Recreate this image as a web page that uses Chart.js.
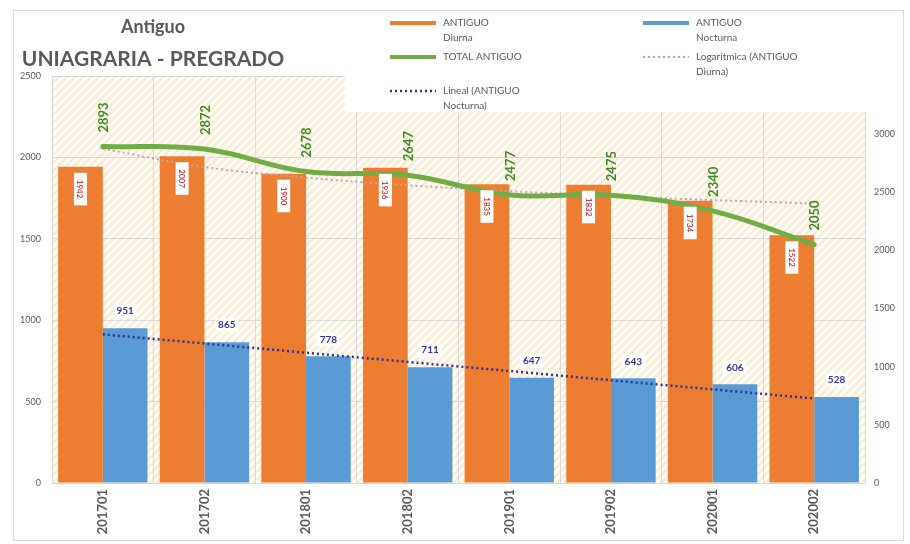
<!DOCTYPE html>
<html>
<head>
<meta charset="utf-8">
<script src="https://cdn.jsdelivr.net/npm/chart.js@4.4.1/dist/chart.umd.min.js"></script>
<style>
  html, body { margin: 0; padding: 0; background: #fff; }
  canvas { display: block; }
</style>
</head>
<body>
<canvas id="chartAntiguo" width="910" height="544"></canvas>
<script>
/* Antiguo - UNIAGRARIA PREGRADO: diurna / nocturna / total por periodo */

const periods = ['201701', '201702', '201801', '201802', '201901', '201902', '202001', '202002'];
const diurna = [1942, 2007, 1900, 1936, 1835, 1832, 1734, 1522];
const nocturna = [951, 865, 778, 711, 647, 643, 606, 528];
const totalAntiguo = [2893, 2872, 2678, 2647, 2477, 2475, 2340, 2050];
// trend lines
const diurnaLogTrend = [2053, 1941, 1876, 1829, 1793, 1763, 1738, 1717];
const nocturnaLinTrend = [913, 857, 800, 744, 688, 631, 575, 519];
const leftTicks = [0, 500, 1000, 1500, 2000, 2500];
const rightTicks = [0, 500, 1000, 1500, 2000, 2500, 3000, 3500];

const FONT = "Lato, 'Liberation Sans', sans-serif";
const GREY = '#595959';
const ORANGE = '#ed7d31';
const BLUE = '#5b9bd5';
const GREEN = '#70ad47';
const LOG_COLOR = '#bda3ab';
const LIN_COLOR = '#2e3192';

/** diagonal cream hatch used behind the plot */
function makeHatch(ctx) {
  const c = document.createElement('canvas');
  c.width = 8; c.height = 8;
  const g = c.getContext('2d');
  g.fillStyle = '#ffffff';
  g.fillRect(0, 0, 8, 8);
  g.strokeStyle = '#fbecd0';
  g.lineWidth = 2.5;
  g.beginPath();
  g.moveTo(-2, 10); g.lineTo(10, -2);
  g.moveTo(-6, 6); g.lineTo(6, -6);
  g.moveTo(2, 14); g.lineTo(14, 2);
  g.stroke();
  return ctx.createPattern(c, 'repeat');
}

const backdrop = {
  id: 'backdrop',
  beforeDraw(chart) {
    const { ctx, chartArea: a } = chart;
    ctx.save();
    ctx.fillStyle = '#fff';
    ctx.fillRect(0, 0, chart.width, chart.height);
    ctx.fillStyle = makeHatch(ctx);
    ctx.fillRect(a.left, a.top, a.right - a.left, a.bottom - a.top);
    ctx.strokeStyle = '#d9d9d9';
    ctx.lineWidth = 1;
    ctx.strokeRect(13.5, 10.5, 890, 530);
    ctx.restore();
  }
};

const valueLabels = {
  id: 'valueLabels',
  afterDatasetsDraw(chart) {
    const ctx = chart.ctx;
    ctx.save();

    // Diurna: small white boxes with red text, rotated, inside the bar top
    ctx.font = '8px ' + FONT;
    ctx.textAlign = 'center';
    ctx.textBaseline = 'middle';
    chart.getDatasetMeta(3).data.forEach((el, i) => {
      const txt = String(diurna[i]);
      const w = ctx.measureText(txt).width;
      const len = w + 14;
      ctx.save();
      ctx.translate(el.x, el.y + 6 + len / 2);
      ctx.rotate(Math.PI / 2);
      ctx.fillStyle = '#fff';
      ctx.fillRect(-len / 2, -6.5, len, 13);
      ctx.fillStyle = '#c00000';
      ctx.fillText(txt, 0, 0.5);
      ctx.restore();
    });

    // Nocturna: blue bold text above the bar
    ctx.font = 'bold 10px ' + FONT;
    chart.getDatasetMeta(4).data.forEach((el, i) => {
      const txt = String(nocturna[i]);
      const w = ctx.measureText(txt).width;
      ctx.fillStyle = 'rgba(255,255,255,0.85)';
      ctx.fillRect(el.x - w / 2 - 3, el.y - 24, w + 6, 14);
      ctx.fillStyle = '#3434a8';
      ctx.fillText(txt, el.x, el.y - 17);
    });

    // Total: green bold, rotated, above the line
    ctx.font = 'bold 13px ' + FONT;
    ctx.textAlign = 'left';
    chart.getDatasetMeta(0).data.forEach((el, i) => {
      ctx.save();
      ctx.translate(el.x + 1, el.y - 14);
      ctx.rotate(-Math.PI / 2);
      ctx.fillStyle = '#3c8a26';
      ctx.fillText(String(totalAntiguo[i]), 0, 0);
      ctx.restore();
    });
    ctx.restore();
  }
};

const titleAndLegend = {
  id: 'titleAndLegend',
  afterDraw(chart) {
    const ctx = chart.ctx;
    ctx.save();

    // title
    ctx.fillStyle = GREY;
    ctx.textAlign = 'center';
    ctx.textBaseline = 'alphabetic';
    ctx.font = 'bold 18px ' + FONT;
    ctx.fillText('Antiguo', 153, 33);
    ctx.font = 'bold 21px ' + FONT;
    ctx.fillText('UNIAGRARIA - PREGRADO', 153, 66);

    // legend box over the top of the plot
    ctx.fillStyle = '#fff';
    ctx.fillRect(345, 11, 553, 101);

    const items = [
      { x: 390, y: 23, color: ORANGE, width: 4, dash: [], text: ['ANTIGUO', 'Diurna'] },
      { x: 643, y: 23, color: BLUE, width: 4, dash: [], text: ['ANTIGUO', 'Nocturna'] },
      { x: 390, y: 57, color: GREEN, width: 4, dash: [], text: ['TOTAL ANTIGUO'] },
      { x: 643, y: 57, color: LOG_COLOR, width: 2, dash: [2, 3], text: ['Logarítmica (ANTIGUO', 'Diurna)'] },
      { x: 390, y: 91, color: LIN_COLOR, width: 2.5, dash: [2, 3], text: ['Lineal (ANTIGUO', 'Nocturna)'] }
    ];
    ctx.font = '10px ' + FONT;
    ctx.textAlign = 'left';
    ctx.textBaseline = 'middle';
    items.forEach(it => {
      ctx.beginPath();
      ctx.setLineDash(it.dash);
      ctx.strokeStyle = it.color;
      ctx.lineWidth = it.width;
      ctx.moveTo(it.x, it.y);
      ctx.lineTo(it.x + 46, it.y);
      ctx.stroke();
      ctx.setLineDash([]);
      ctx.fillStyle = GREY;
      it.text.forEach((t, k) => ctx.fillText(t, it.x + 53, it.y + k * 15));
    });
    ctx.restore();
  }
};

new Chart(document.getElementById('chartAntiguo'), {
  type: 'bar',
  data: {
    labels: periods,
    datasets: [
      {
        type: 'line',
        label: 'TOTAL ANTIGUO',
        data: totalAntiguo,
        yAxisID: 'y1',
        borderColor: GREEN,
        borderWidth: 5,
        borderCapStyle: 'round',
        tension: 0.4,
        pointRadius: 0,
        order: 0
      },
      {
        type: 'line',
        label: 'Logarítmica (ANTIGUO Diurna)',
        data: diurnaLogTrend,
        yAxisID: 'y',
        borderColor: LOG_COLOR,
        borderWidth: 2,
        borderDash: [2, 3],
        tension: 0.4,
        pointRadius: 0,
        order: 1
      },
      {
        type: 'line',
        label: 'Lineal (ANTIGUO Nocturna)',
        data: nocturnaLinTrend,
        yAxisID: 'y',
        borderColor: LIN_COLOR,
        borderWidth: 2.5,
        borderDash: [2, 3],
        tension: 0,
        pointRadius: 0,
        order: 2
      },
      {
        label: 'ANTIGUO Diurna',
        data: diurna,
        yAxisID: 'y',
        backgroundColor: ORANGE,
        categoryPercentage: 0.88,
        barPercentage: 1.0,
        order: 10
      },
      {
        label: 'ANTIGUO Nocturna',
        data: nocturna,
        yAxisID: 'y',
        backgroundColor: BLUE,
        categoryPercentage: 0.88,
        barPercentage: 1.0,
        order: 11
      }
    ]
  },
  options: {
    responsive: false,
    animation: false,
    layout: { padding: { top: 76, left: 0, right: 0, bottom: 0 } },
    plugins: {
      legend: { display: false },
      title: { display: false },
      tooltip: { enabled: false }
    },
    scales: {
      x: {
        grid: { offset: true, color: '#d9d9d9', drawTicks: false },
        border: { color: '#d0d8e4' },
        ticks: {
          color: GREY,
          font: { family: FONT, size: 13, weight: 'bold' },
          minRotation: 90,
          maxRotation: 90,
          padding: 6
        },
        afterFit(scale) { scale.height = 61; }
      },
      y: {
        position: 'left',
        min: 0,
        max: 2500,
        afterBuildTicks(scale) { scale.ticks = leftTicks.map(v => ({ value: v })); },
        grid: { color: '#d9d9d9', drawTicks: false },
        border: { display: false },
        ticks: {
          color: GREY,
          font: { family: FONT, size: 9 },
          padding: 11,
          callback: v => String(v)
        },
        afterFit(scale) { scale.width = 52; }
      },
      y1: {
        position: 'right',
        min: 0,
        max: 3500,
        afterBuildTicks(scale) { scale.ticks = rightTicks.map(v => ({ value: v })); },
        grid: { display: false, drawTicks: false },
        border: { display: false },
        ticks: {
          color: GREY,
          font: { family: FONT, size: 9 },
          padding: 9,
          callback: v => String(v)
        },
        afterFit(scale) { scale.width = 45; }
      }
    }
  },
  plugins: [backdrop, valueLabels, titleAndLegend]
});
</script>
</body>
</html>
